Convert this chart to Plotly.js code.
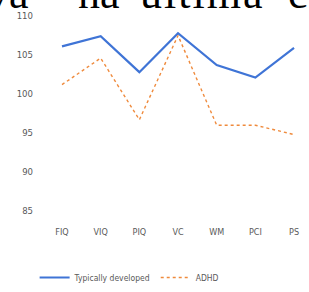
<!DOCTYPE html>
<html>
<head>
<meta charset="utf-8">
<script src="https://cdn.plot.ly/plotly-3.0.1.min.js"></script>
<style>
html,body{margin:0;padding:0;background:#fff;overflow:hidden;}
#wrap{position:relative;width:309px;height:292px;overflow:hidden;}
#chart{position:absolute;left:0;top:0;width:309px;height:292px;}
#hdr{position:absolute;left:0;top:0;width:309px;height:20px;z-index:5;pointer-events:none;}
</style>
</head>
<body>
<div id="wrap">
<div id="chart"></div>
<svg id="hdr" width="309" height="20" xmlns="http://www.w3.org/2000/svg">
  <g font-family="Liberation Serif, DejaVu Serif, serif" font-size="44" fill="#000">
    <text x="-13" y="8">va</text>
    <text x="78" y="8">na</text>
    <text x="140" y="8" letter-spacing="2">última</text>
    <text x="288" y="8">c</text>
  </g>
</svg>
</div>
<script>
const categories = ["FIQ", "VIQ", "PIQ", "VC", "WM", "PCI", "PS"];
const typicallyDeveloped = [106.1, 107.4, 102.8, 107.8, 103.7, 102.1, 105.9];
const adhd = [101.2, 104.6, 96.7, 107.5, 96.0, 96.0, 94.8];
const yTicks = [85, 90, 95, 100, 105, 110];

const narrow = "Liberation Sans Narrow, DejaVu Sans Condensed, Arial Narrow, sans-serif";

const traces = [
  {x: categories, y: typicallyDeveloped, name: "Typically developed", type: "scatter", mode: "lines",
   line: {color: "#3f74d6", width: 2.2}},
  {x: categories, y: adhd, name: "ADHD", type: "scatter", mode: "lines",
   line: {color: "#ef8a3c", width: 1.4, dash: "dot"}}
];

const layout = {
  width: 309, height: 292,
  margin: {l: 40, r: 0, t: 16, b: 75},
  paper_bgcolor: "#fff", plot_bgcolor: "#fff",
  showlegend: true,
  legend: {orientation: "h", x: -0.02, xanchor: "left", y: -0.343, yanchor: "middle",
           font: {family: narrow, size: 8.5, color: "#595959"}, itemwidth: 30, tracegroupgap: 0},
  xaxis: {type: "category", range: [-0.569, 6.387], showgrid: false, zeroline: false, showline: false,
          ticks: "", ticklabelstandoff: 14, tickfont: {family: narrow, size: 9, color: "#595959"}},
  yaxis: {range: [85, 110], tickvals: yTicks, ticktext: yTicks.map(String), showgrid: false, zeroline: false,
          showline: false, ticks: "", ticklabelstandoff: 6, tickfont: {family: narrow, size: 9.5, color: "#595959"}}
};

Plotly.newPlot("chart", traces, layout, {displayModeBar: false, staticPlot: true});
</script>
</body>
</html>
